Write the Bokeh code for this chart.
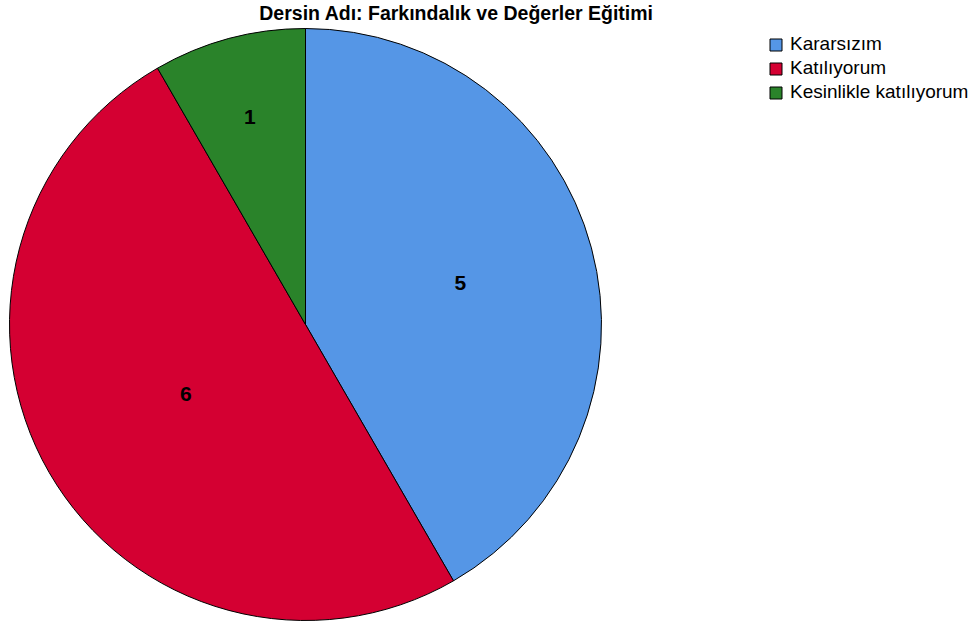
import math
from bokeh.plotting import figure
from bokeh.models import Range1d, Legend, LegendItem, ColumnDataSource
from bokeh.core.properties import value
from bokeh.embed import file_html
from bokeh.resources import INLINE

title_text = "Dersin Adı: Farkındalık ve Değerler Eğitimi"
categories = ["Kararsızım", "Katılıyorum", "Kesinlikle katılıyorum"]
counts = [5, 6, 1]
colors = ["#5596E6", "#D40032", "#2A832A"]

W, H = 975, 621
FONT = "Liberation Sans"

p = figure(width=W, height=H, output_backend="svg", toolbar_location=None,
           x_range=Range1d(0, W), y_range=Range1d(0, H), min_border=0,
           outline_line_color=None)
p.axis.visible = False
p.grid.visible = False
p.background_fill_color = "white"

cx, cy, R = 305, H - 324, 296
total = sum(counts)
start_cw, end_cw, lx, ly = [], [], [], []
acc = 0.0
for c in counts:
    a0 = acc / total * 2 * math.pi
    a1 = (acc + c) / total * 2 * math.pi
    acc += c
    start_cw.append(a0)
    end_cw.append(a1)
    half = (a1 - a0) / 2
    mid = (a0 + a1) / 2
    dist = 1.1 * (2.0 / 3.0) * R * math.sin(half) / half
    lx.append(cx + dist * math.sin(mid))
    ly.append(cy + dist * math.cos(mid))

src = ColumnDataSource(dict(
    cat=categories, cnt=[str(c) for c in counts], color=colors,
    start=[math.pi / 2 - e for e in end_cw],
    end=[math.pi / 2 - s for s in start_cw],
    lx=lx, ly=ly,
))

renderers = []
for i in range(len(categories)):
    r = p.wedge(x=cx, y=cy, radius=R, start_angle=src.data["start"][i], end_angle=src.data["end"][i],
                fill_color=colors[i], line_color="#000000", line_width=1)
    renderers.append(r)

p.text(x="lx", y="ly", text="cnt", source=src, text_align="center", text_baseline="middle",
       text_font=value(FONT), text_font_style="bold", text_font_size="21px", text_color="black")

p.text(x=[456], y=[H - 12], text=[title_text], text_align="center", text_baseline="middle",
       text_font=value(FONT), text_font_style="bold", text_font_size="19.5px", text_color="black")

legend = Legend(items=[LegendItem(label=categories[i], renderers=[renderers[i]]) for i in range(len(categories))],
                location=(768, H - 31 - 72), margin=0, padding=0, spacing=2,
                glyph_width=15, glyph_height=15, label_height=20, label_standoff=7,
                label_text_font=FONT, label_text_font_size="19px", label_text_color="black",
                border_line_color=None, background_fill_alpha=0)
p.add_layout(legend)

open("out.html", "w").write(file_html(p, INLINE))
